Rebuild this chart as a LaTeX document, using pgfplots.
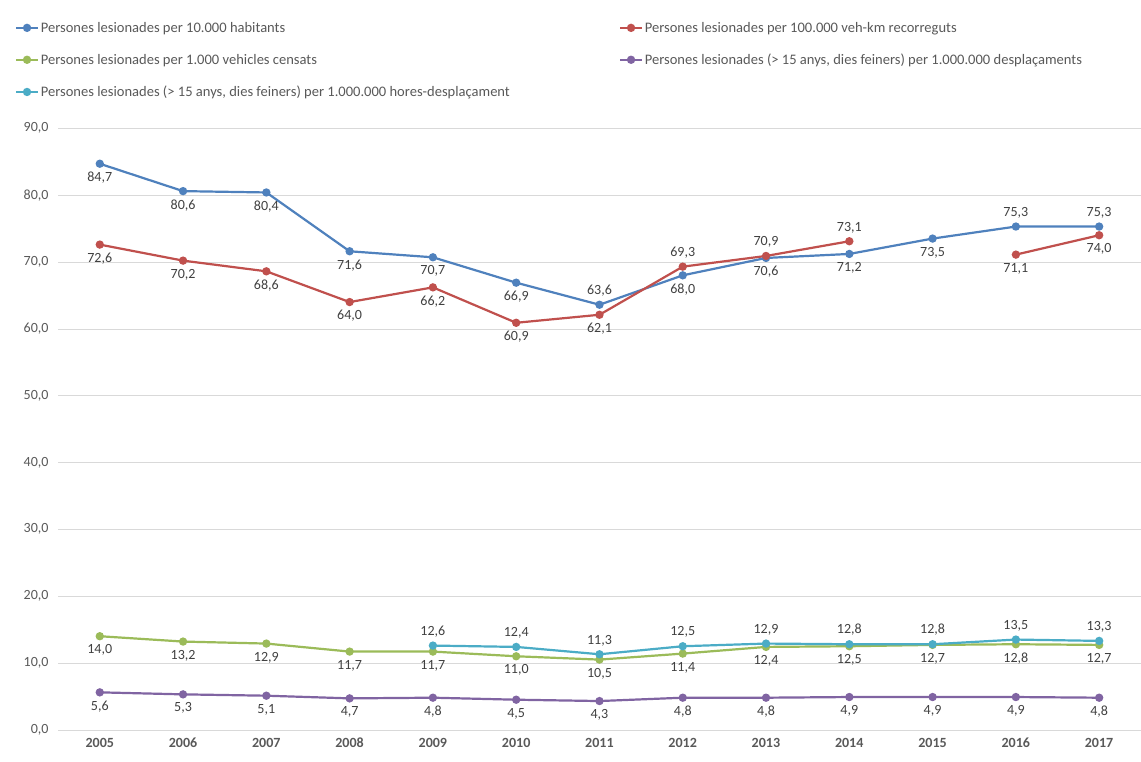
\documentclass[border=0pt]{standalone}
\usepackage{pgfplots}
\pgfplotsset{compat=1.18}
\usepackage{fontspec}
\setmainfont{Carlito}
\definecolor{cb}{RGB}{79,129,189}
\definecolor{cr}{RGB}{192,80,77}
\definecolor{cg}{RGB}{155,187,89}
\definecolor{cp}{RGB}{128,100,162}
\definecolor{cc}{RGB}{75,172,198}
\begin{document}
\begin{tikzpicture}
\begin{axis}[
  scale only axis, width=1080pt, height=600pt,
  xmin=2004.5, xmax=2017.5, ymin=0, ymax=90,
  xtick={2005,...,2017},
  xticklabel style={font=\fontsize{14}{16}\selectfont\bfseries\color[RGB]{89,89,89}, /pgf/number format/1000 sep={}, yshift=-4pt, text height=10pt, text depth=0pt},
  ytick={0,10,...,90},
  yticklabel style={font=\fontsize{14}{16}\selectfont\color[RGB]{89,89,89}, /pgf/number format/.cd, use comma, fixed, fixed zerofill, precision=1, /tikz/.cd, xshift=-6pt},
  /pgf/number format/assume math mode=true,
  ymajorgrids, grid style={draw=black!15},
  axis line style={draw=none},
  major tick length=0pt,
  every axis plot/.append style={line width=2.2pt, mark=*, mark size=3pt},
  legend columns=2,
  legend cell align=left,
  legend style={at={(0,1)}, anchor=south west, xshift=-46pt, yshift=26pt, draw=none, font=\fontsize{14.5}{16}\selectfont\color[RGB]{89,89,89}, row sep=16pt},
  legend image code/.code={\draw[#1, line width=2.2pt] (0cm,0cm) -- (0.75cm,0cm); \fill[#1] (0.375cm,0cm) circle (3pt);},
  nodes near coords style={font=\fontsize{14}{16}\selectfont\color[RGB]{64,64,64}, /pgf/number format/.cd, use comma, fixed, fixed zerofill, precision=1, /tikz/.cd},
]
\addplot[cb, mark options={fill=cb}] coordinates {(2005,84.7)(2006,80.6)(2007,80.4)(2008,71.6)(2009,70.7)(2010,66.9)(2011,63.6)(2012,68.0)(2013,70.6)(2014,71.2)(2015,73.5)(2016,75.3)(2017,75.3)};
\addlegendentry{\makebox[575pt][l]{Persones lesionades per 10.000 habitants}}
\addplot[cr, mark options={fill=cr}, unbounded coords=jump] coordinates {(2005,72.6)(2006,70.2)(2007,68.6)(2008,64.0)(2009,66.2)(2010,60.9)(2011,62.1)(2012,69.3)(2013,70.9)(2014,73.1)(2015,nan)(2016,71.1)(2017,74.0)};
\addlegendentry{Persones lesionades per 100.000 veh-km recorreguts}
\addplot[cg, mark options={fill=cg}] coordinates {(2005,14.0)(2006,13.2)(2007,12.9)(2008,11.7)(2009,11.7)(2010,11.0)(2011,10.5)(2012,11.4)(2013,12.4)(2014,12.5)(2015,12.7)(2016,12.8)(2017,12.7)};
\addlegendentry{Persones lesionades per 1.000 vehicles censats}
\addplot[cp, mark options={fill=cp}] coordinates {(2005,5.6)(2006,5.3)(2007,5.1)(2008,4.7)(2009,4.8)(2010,4.5)(2011,4.3)(2012,4.8)(2013,4.8)(2014,4.9)(2015,4.9)(2016,4.9)(2017,4.8)};
\addlegendentry{Persones lesionades (> 15 anys, dies feiners) per 1.000.000 desplaçaments}
\addplot[cc, mark options={fill=cc}] coordinates {(2009,12.6)(2010,12.4)(2011,11.3)(2012,12.5)(2013,12.9)(2014,12.8)(2015,12.8)(2016,13.5)(2017,13.3)};
\addlegendentry{Persones lesionades (> 15 anys, dies feiners) per 1.000.000 hores-desplaçament}
\addplot[forget plot, draw=none, mark=none, nodes near coords, nodes near coords align={below}, every node near coord/.append style={yshift=-4pt}] coordinates {(2005,84.7)(2006,80.6)(2007,80.4)(2008,71.6)(2009,70.7)(2010,66.9)(2012,68.0)(2013,70.6)(2014,71.2)(2015,73.5)
(2005,72.6)(2006,70.2)(2007,68.6)(2008,64.0)(2009,66.2)(2010,60.9)(2011,62.1)(2016,71.1)(2017,74.0)
(2005,14.0)(2006,13.2)(2007,12.9)(2008,11.7)(2009,11.7)(2010,11.0)(2011,10.5)(2012,11.4)(2013,12.4)(2014,12.5)(2015,12.7)(2016,12.8)(2017,12.7)
(2005,5.6)(2006,5.3)(2007,5.1)(2008,4.7)(2009,4.8)(2010,4.5)(2011,4.3)(2012,4.8)(2013,4.8)(2014,4.9)(2015,4.9)(2016,4.9)(2017,4.8)};
\addplot[forget plot, draw=none, mark=none, nodes near coords, nodes near coords align={above}, every node near coord/.append style={yshift=4pt}] coordinates {(2011,63.6)(2016,75.3)(2017,75.3)(2012,69.3)(2013,70.9)(2014,73.1)
(2009,12.6)(2010,12.4)(2011,11.3)(2012,12.5)(2013,12.9)(2014,12.8)(2015,12.8)(2016,13.5)(2017,13.3)};
\end{axis}
\path (current axis.south west) ++(-58pt,-32pt) rectangle (current axis.north east) ++(0,128pt);
\end{tikzpicture}
\end{document}
